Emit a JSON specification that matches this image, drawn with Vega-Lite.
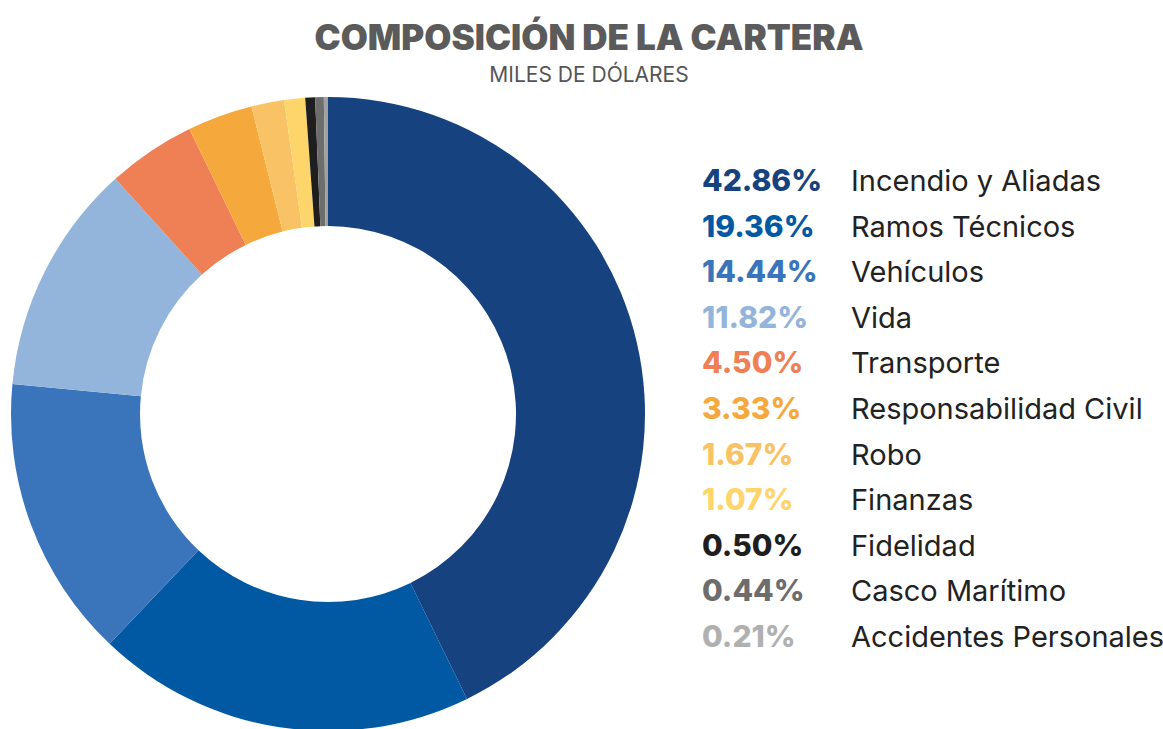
{
  "$schema": "https://vega.github.io/schema/vega-lite/v6.json",
  "background": "#ffffff",
  "padding": {"left": 0, "right": 0, "top": 22, "bottom": 0},
  "spacing": 46,
  "title": {
    "text": "COMPOSICIÓN DE LA CARTERA",
    "subtitle": "MILES DE DÓLARES",
    "anchor": "middle",
    "font": "Inter",
    "fontSize": 35,
    "fontWeight": 900,
    "color": "#5b5b5b",
    "subtitleFont": "Inter",
    "subtitleFontSize": 21,
    "subtitleFontWeight": 400,
    "subtitleColor": "#555555",
    "subtitlePadding": 8,
    "offset": 3
  },
  "datasets": {
    "cartera": [
      {"order": 1, "name": "Incendio y Aliadas", "pct": 42.86, "label": "42.86%"},
      {"order": 2, "name": "Ramos Técnicos", "pct": 19.36, "label": "19.36%"},
      {"order": 3, "name": "Vehículos", "pct": 14.44, "label": "14.44%"},
      {"order": 4, "name": "Vida", "pct": 11.82, "label": "11.82%"},
      {"order": 5, "name": "Transporte", "pct": 4.50, "label": "4.50%"},
      {"order": 6, "name": "Responsabilidad Civil", "pct": 3.33, "label": "3.33%"},
      {"order": 7, "name": "Robo", "pct": 1.67, "label": "1.67%"},
      {"order": 8, "name": "Finanzas", "pct": 1.07, "label": "1.07%"},
      {"order": 9, "name": "Fidelidad", "pct": 0.50, "label": "0.50%"},
      {"order": 10, "name": "Casco Marítimo", "pct": 0.44, "label": "0.44%"},
      {"order": 11, "name": "Accidentes Personales", "pct": 0.21, "label": "0.21%"}
    ]
  },
  "hconcat": [
    {
      "width": 656,
      "height": 650,
      "data": {"name": "cartera"},
      "mark": {"type": "arc", "radius": 317, "innerRadius": 188, "stroke": null},
      "encoding": {
        "theta": {"field": "pct", "type": "quantitative", "stack": true},
        "order": {"field": "order", "type": "quantitative"},
        "color": {
          "field": "name",
          "type": "nominal",
          "legend": null,
          "scale": {
            "domain": ["Incendio y Aliadas", "Ramos Técnicos", "Vehículos", "Vida", "Transporte", "Responsabilidad Civil", "Robo", "Finanzas", "Fidelidad", "Casco Marítimo", "Accidentes Personales"],
            "range": ["#16427f", "#0059a2", "#3a75bb", "#93b5db", "#ef7f54", "#f5a93c", "#f9c264", "#fdd56b", "#1e1e1e", "#6d6d6d", "#a0a0a0"]
          }
        }
      }
    },
    {
      "width": 476,
      "height": 650,
      "data": {"name": "cartera"},
      "layer": [
        {
          "mark": {"type": "text", "align": "left", "baseline": "middle", "font": "Inter", "fontSize": 30, "fontWeight": 800},
          "encoding": {
            "x": {"datum": "pct", "type": "nominal", "scale": {"type": "point", "domain": ["pct", "name"], "range": [0, 149], "padding": 0}, "axis": null},
            "y": {"field": "name", "type": "nominal", "sort": {"field": "order"}, "scale": {"type": "point", "range": [93, 549], "padding": 0}, "axis": null},
            "text": {"field": "label"},
            "color": {
              "field": "name",
              "type": "nominal",
              "legend": null,
              "scale": {
                "domain": ["Incendio y Aliadas", "Ramos Técnicos", "Vehículos", "Vida", "Transporte", "Responsabilidad Civil", "Robo", "Finanzas", "Fidelidad", "Casco Marítimo", "Accidentes Personales"],
                "range": ["#16427f", "#0059a2", "#3a75bb", "#93b5db", "#ef7f54", "#f5a93c", "#f9c264", "#fdd56b", "#1e1e1e", "#6d6d6d", "#b0b0b0"]
              }
            }
          }
        },
        {
          "mark": {"type": "text", "align": "left", "baseline": "middle", "font": "Inter", "fontSize": 29, "fontWeight": 400, "color": "#222222"},
          "encoding": {
            "x": {"datum": "name", "type": "nominal", "axis": null},
            "y": {"field": "name", "type": "nominal", "sort": {"field": "order"}, "axis": null},
            "text": {"field": "name"}
          }
        }
      ],
      "resolve": {"scale": {"color": "independent"}}
    }
  ],
  "resolve": {"scale": {"color": "independent"}},
  "config": {"view": {"stroke": null}}
}
